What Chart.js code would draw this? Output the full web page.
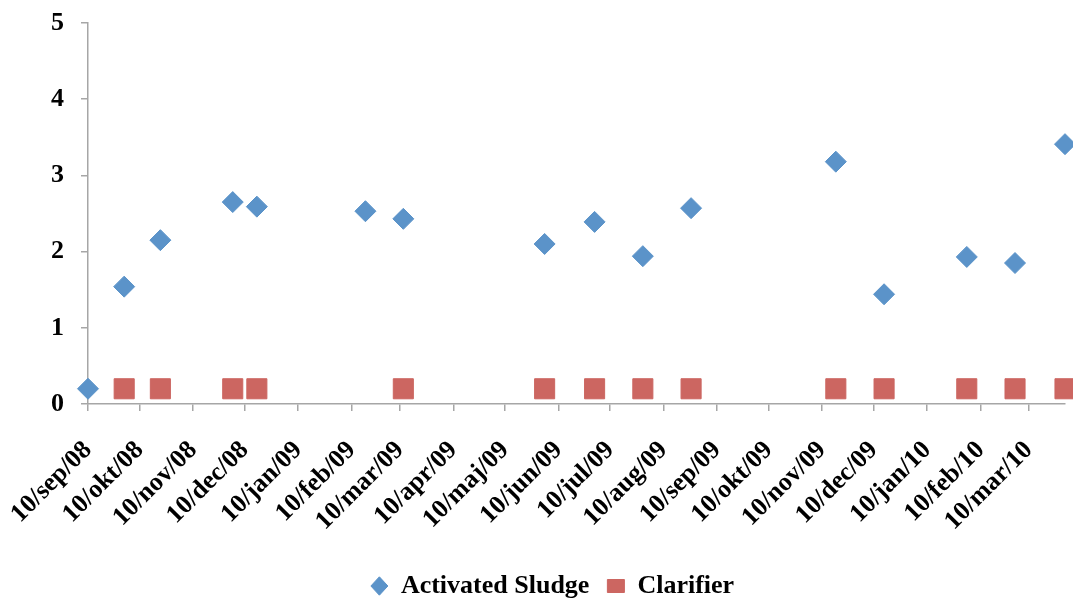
<!DOCTYPE html>
<html>
<head>
<meta charset="utf-8">
<script src="https://cdn.jsdelivr.net/npm/chart.js@4"></script>
<style>
  html, body { margin: 0; padding: 0; background: #fff; }
  #wrap { width: 1073px; height: 599px; }
</style>
</head>
<body>
<div id="wrap"><canvas id="chart" width="1073" height="599"></canvas></div>
<script>
// ===== data =====
const startDate = '2008-09-10';
const endDate = '2010-03-31';

const tickDates = ['2008-09-10', '2008-10-10', '2008-11-10', '2008-12-10', '2009-01-10', '2009-02-10', '2009-03-10',
    '2009-04-10', '2009-05-10', '2009-06-10', '2009-07-10', '2009-08-10', '2009-09-10', '2009-10-10', '2009-11-10',
    '2009-12-10', '2010-01-10', '2010-02-10', '2010-03-10'];
const tickLabels = ['10/sep/08', '10/okt/08', '10/nov/08', '10/dec/08', '10/jan/09', '10/feb/09', '10/mar/09',
    '10/apr/09', '10/maj/09', '10/jun/09', '10/jul/09', '10/aug/09', '10/sep/09', '10/okt/09', '10/nov/09',
    '10/dec/09', '10/jan/10', '10/feb/10', '10/mar/10'];

const sludgeDates = ['2008-09-10', '2008-10-01', '2008-10-22', '2008-12-03', '2008-12-17', '2009-02-18', '2009-03-12',
    '2009-06-02', '2009-07-01', '2009-07-29', '2009-08-26', '2009-11-18', '2009-12-16', '2010-02-02', '2010-03-02', '2010-03-31'];
const sludgeValues = [0.2, 1.54, 2.15, 2.65, 2.59, 2.53, 2.43, 2.10, 2.39, 1.94, 2.57, 3.18, 1.44, 1.93, 1.85, 3.41];

const clarifierDates = ['2008-10-01', '2008-10-22', '2008-12-03', '2008-12-17', '2009-03-12', '2009-06-02', '2009-07-01',
    '2009-07-29', '2009-08-26', '2009-11-18', '2009-12-16', '2010-02-02', '2010-03-02', '2010-03-31'];
const clarifierValues = [0.2, 0.2, 0.2, 0.2, 0.2, 0.2, 0.2, 0.2, 0.2, 0.2, 0.2, 0.2, 0.2, 0.2];

// days since the first sample
function dayOf(s) { return (Date.parse(s) - Date.parse(startDate)) / 86400000; }
function toPoints(dates, values) { return dates.map((d, i) => ({ x: dayOf(d), y: values[i] })); }

const serif = 'Liberation Serif, Times New Roman, serif';
const axisGrey = '#a6a6a6';

new Chart(document.getElementById('chart').getContext('2d'), {
    type: 'scatter',
    data: {
        datasets: [
            { label: 'Activated Sludge', data: toPoints(sludgeDates, sludgeValues), pointStyle: 'rectRot', pointRadius: 10.5,
              backgroundColor: '#5b93c9', borderColor: '#5b93c9', borderWidth: 1, clip: false },
            { label: 'Clarifier', data: toPoints(clarifierDates, clarifierValues), pointStyle: 'rect', pointRadius: 14.2,
              backgroundColor: '#cc6661', borderColor: '#cc6661', borderWidth: 1, clip: false }
        ]
    },
    options: {
        responsive: false,
        animation: false,
        layout: { autoPadding: false, padding: { top: 23, right: 8, bottom: -10, left: 40 } },
        plugins: {
            tooltip: { enabled: false },
            legend: {
                position: 'bottom',
                labels: { usePointStyle: true, boxHeight: 13, pointStyleWidth: 17, padding: 18, color: '#000',
                          font: { family: serif, size: 26, weight: 'bold' } }
            }
        },
        scales: {
            x: {
                type: 'linear', min: 0, max: dayOf(endDate),
                afterBuildTicks: scale => { scale.ticks = tickDates.map(d => ({ value: dayOf(d) })); },
                // labels sit well below the axis; keep them from widening the side margins
                afterFit: scale => { scale.height = 151; scale.paddingLeft = 0; scale.paddingRight = 0; },
                border: { display: true, color: axisGrey, width: 1.5 },
                grid: { drawOnChartArea: false, drawTicks: true, tickLength: 7, color: axisGrey, lineWidth: 1.5 },
                ticks: { autoSkip: false, minRotation: 45, maxRotation: 45, padding: 24, color: '#000',
                         font: { family: serif, size: 26, weight: 'bold' },
                         callback: (v, i) => tickLabels[i] }
            },
            y: {
                min: 0, max: 5,
                afterFit: scale => { scale.width = 48; scale.paddingTop = 0; scale.paddingBottom = 0; },
                border: { display: true, color: axisGrey, width: 1.5 },
                grid: { drawOnChartArea: false, drawTicks: true, tickLength: 7, color: axisGrey, lineWidth: 1.5 },
                ticks: { stepSize: 1, padding: 17, color: '#000', font: { family: serif, size: 26, weight: 'bold' } }
            }
        }
    }
});
</script>
</body>
</html>
